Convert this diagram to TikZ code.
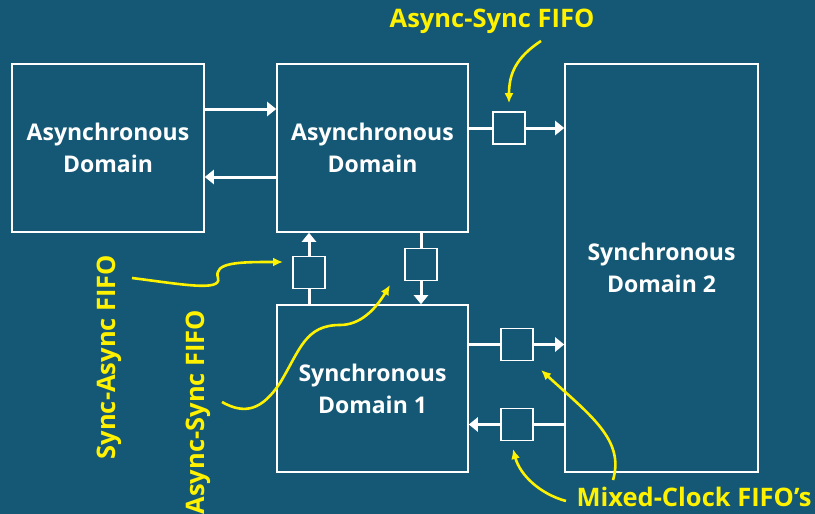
\documentclass[tikz,border=0pt]{standalone}
\usepackage{fontspec}
\setmainfont{Open Sans}
\usetikzlibrary{arrows.meta}
\definecolor{bgblue}{RGB}{20,88,117}
\tikzset{
  domainbox/.style={draw=white, line width=1.6pt, text=white, align=center, inner sep=0pt, font=\bfseries\fontsize{23}{32}\selectfont},
  fifo/.style={draw=white, line width=1.6pt, minimum size=32pt, inner sep=0pt},
  wire/.style={white, line width=3pt},
  flow/.style={wire, -{Triangle[length=9pt,width=14pt]}},
  note/.style={text=yellow, inner sep=0pt, font=\bfseries\fontsize{25.5}{30}\selectfont},
  pointer/.style={yellow, line width=2.6pt, -{Latex[length=10pt,width=9pt]}}
}

\begin{document}
\begin{tikzpicture}[x=1pt,y=-1pt]
\fill[bgblue] (0,0) rectangle (815,514);
\useasboundingbox (0,0) rectangle (815,514);

\node[domainbox, minimum width=192pt, minimum height=168pt] (asyncL) at (108,148) {Asynchronous\\Domain};
\node[domainbox, minimum width=191pt, minimum height=168pt] (asyncM) at (372.5,148) {Asynchronous\\Domain};
\node[domainbox, minimum width=191pt, minimum height=167pt] (syncL) at (372.5,388.5) {Synchronous\\Domain 1};
\node[domainbox, minimum width=193pt, minimum height=408pt] (syncR) at (661.5,268) {Synchronous\\Domain 2};

\node[fifo] (fTop) at (509,128) {};
\node[fifo] (fUp) at (309,272.5) {};
\node[fifo] (fDown) at (421,264.5) {};
\node[fifo] (fMixA) at (517,344.5) {};
\node[fifo] (fMixB) at (517,424.5) {};

\draw[flow] ([yshift=39pt]asyncL.east) -- ([yshift=39pt]asyncM.west);
\draw[flow] ([yshift=-29pt]asyncM.west) -- ([yshift=-29pt]asyncL.east);

\draw[wire] (asyncM.east |- fTop) -- (fTop.west);
\draw[flow] (fTop.east) -- (syncR.west |- fTop);
\draw[wire] (syncL.north -| fUp) -- (fUp.south);
\draw[flow] (fUp.north) -- (asyncM.south -| fUp);
\draw[wire] (asyncM.south -| fDown) -- (fDown.north);
\draw[flow] (fDown.south) -- (syncL.north -| fDown);
\draw[wire] (syncL.east |- fMixA) -- (fMixA.west);
\draw[flow] (fMixA.east) -- (syncR.west |- fMixA);
\draw[wire] (syncR.west |- fMixB) -- (fMixB.east);
\draw[flow] (fMixB.west) -- (syncL.east |- fMixB);

\node[note] (lblTop) at (492,21) {Async-Sync FIFO};
\node[note, rotate=90] (lblSA) at (109,357) {Sync-Async FIFO};
\node[note, rotate=90] (lblAS) at (198,412) {Async-Sync FIFO};
\node[note] (lblMix) at (694,497) {Mixed-Clock FIFO’s};

\coordinate (tailTop) at (541,41);
\coordinate (tailSA) at (132,278);
\coordinate (tailAS) at (222,402);
\coordinate (tailMixA) at (613,480);
\coordinate (tailMixB) at (566,501);
\coordinate (tipSA) at (283,262);
\coordinate (tipAS) at (390,285);
\coordinate (tipMixA) at (541,370);
\coordinate (tipMixB) at (513,449);

\draw[pointer, shorten >=8pt] (tailTop) .. controls (515,58) and (509,75) .. (fTop.north);
\draw[pointer] (tailSA) .. controls (180,284) and (222,292) .. (218,278) .. controls (213,262) and (240,262) .. (tipSA);
\draw[pointer] (tailAS) .. controls (245,415) and (262,410) .. (280,383) .. controls (300,350) and (305,325) .. (340,325) .. controls (360,325) and (375,310) .. (tipAS);
\draw[pointer] (tailMixA) .. controls (625,440) and (590,415) .. (tipMixA);
\draw[pointer] (tailMixB) .. controls (540,494) and (520,475) .. (tipMixB);
\end{tikzpicture}
\end{document}
